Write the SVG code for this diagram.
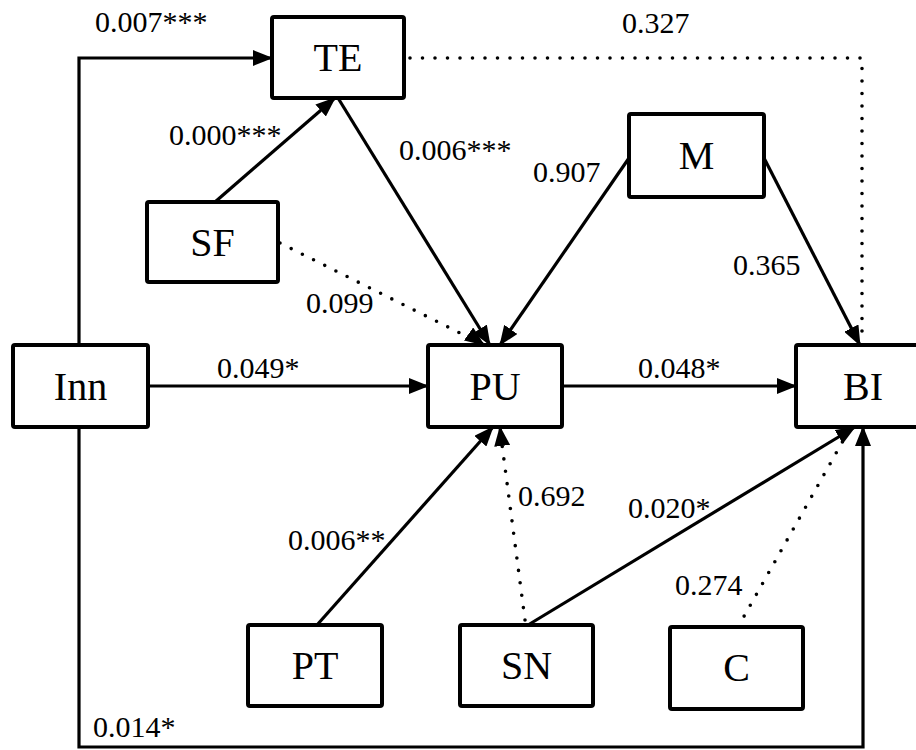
<svg xmlns="http://www.w3.org/2000/svg" width="916" height="750" viewBox="0 0 916 750">
<style>
text{font-family:'Liberation Serif','Times New Roman',Times,'Noto Serif','DejaVu Serif',serif;fill:#000;}
.box{fill:#fff;stroke:#000;stroke-width:4;}
.nt{font-size:40px;text-anchor:middle;}
.lb{font-size:30px;}
.ln{fill:none;stroke:#000;stroke-width:3.2;}
.dt{fill:none;stroke:#000;stroke-width:3.6;stroke-linecap:round;stroke-dasharray:0 12.5;}
</style>
<defs>
<marker id="ah" markerUnits="userSpaceOnUse" viewBox="0 0 20 16" refX="19" refY="8" markerWidth="20" markerHeight="16" orient="auto">
<path d="M0,0 L20,8 L0,16 z" fill="#000"/>
</marker>
</defs>
<rect width="916" height="750" fill="#fff"/>
<g id="connectors">
<path class="ln" d="M79,345 V58 H272" marker-end="url(#ah)"/>
<path class="ln" d="M215,202 L335,98" marker-end="url(#ah)"/>
<path class="ln" d="M338,98 L490,345" marker-end="url(#ah)"/>
<path class="dt" d="M280,243 L484,345"/>
<path class="ln" d="M470,335 L484,345" stroke="none" marker-end="url(#ah)"/>
<path class="ln" d="M629,158 L500,345" marker-end="url(#ah)"/>
<path class="ln" d="M764,158 L860,345" marker-end="url(#ah)"/>
<path class="dt" d="M410,58 H862 V335"/>
<path class="ln" d="M148,386 H428" marker-end="url(#ah)"/>
<path class="ln" d="M562,386 H796" marker-end="url(#ah)"/>
<path class="ln" d="M317,625 L493,427" marker-end="url(#ah)"/>
<path class="dt" d="M525,620 L501,437"/>
<path class="ln" d="M501.5,440 L500,427" stroke="none" marker-end="url(#ah)"/>
<path class="ln" d="M528,625 L855,427" marker-end="url(#ah)"/>
<path class="dt" d="M738,627 L848,432"/>
<path class="ln" d="M79,427 V747 H863 V427" marker-end="url(#ah)"/>
</g>
<g id="TE"><rect class="box" x="272" y="17" width="132" height="81" rx="2"/><text class="nt" x="338" y="71" font-family="Liberation Serif">TE</text></g>
<g id="SF"><rect class="box" x="147" y="202" width="131" height="80" rx="2"/><text class="nt" x="212.5" y="256" font-family="Liberation Serif">SF</text></g>
<g id="M"><rect class="box" x="629" y="114" width="135" height="83" rx="2"/><text class="nt" x="696.5" y="169" font-family="Liberation Serif">M</text></g>
<g id="Inn"><rect class="box" x="13" y="345" width="135" height="82" rx="2"/><text class="nt" x="80.5" y="400" font-family="Liberation Serif">Inn</text></g>
<g id="PU"><rect class="box" x="428" y="345" width="134" height="82" rx="2"/><text class="nt" x="495" y="400" font-family="Liberation Serif">PU</text></g>
<g id="BI"><rect class="box" x="796" y="345" width="134" height="82" rx="2"/><text class="nt" x="863" y="400" font-family="Liberation Serif">BI</text></g>
<g id="PT"><rect class="box" x="248" y="625" width="134" height="81" rx="2"/><text class="nt" x="315" y="679" font-family="Liberation Serif">PT</text></g>
<g id="SN"><rect class="box" x="460" y="625" width="133" height="81" rx="2"/><text class="nt" x="526.5" y="679" font-family="Liberation Serif">SN</text></g>
<g id="C"><rect class="box" x="670" y="627" width="133" height="82" rx="2"/><text class="nt" x="736.5" y="681" font-family="Liberation Serif">C</text></g>
<g id="labels">
<text class="lb" x="95" y="32">0.007***</text>
<text class="lb" x="622" y="33">0.327</text>
<text class="lb" x="169" y="145">0.000***</text>
<text class="lb" x="399" y="160">0.006***</text>
<text class="lb" x="533" y="182">0.907</text>
<text class="lb" x="733" y="275">0.365</text>
<text class="lb" x="306" y="313">0.099</text>
<text class="lb" x="217" y="378">0.049*</text>
<text class="lb" x="638" y="378">0.048*</text>
<text class="lb" x="518" y="506">0.692</text>
<text class="lb" x="628" y="518">0.020*</text>
<text class="lb" x="288" y="550">0.006**</text>
<text class="lb" x="675" y="595">0.274</text>
<text class="lb" x="93" y="737">0.014*</text>
</g>
</svg>
